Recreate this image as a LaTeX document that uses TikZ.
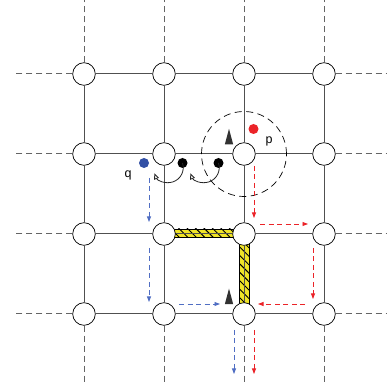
\documentclass[tikz,border=0pt]{standalone}
\usepackage{fontspec}
\newfontfamily\lblfont{Liberation Sans}
\usetikzlibrary{arrows.meta,calc,patterns.meta,shapes.geometric,backgrounds}
\definecolor{gridgray}{RGB}{80,80,80}
\definecolor{outgray}{RGB}{100,100,100}
\definecolor{qblue}{RGB}{50,80,165}
\definecolor{qpathblue}{RGB}{80,110,195}
\definecolor{pred}{RGB}{235,35,40}
\definecolor{wallyellow}{RGB}{240,228,40}
\definecolor{agentgray}{RGB}{50,50,50}

\begin{document}
\begin{tikzpicture}[x=1pt,y=1pt,>={Triangle[length=5.5pt,width=4pt]},
  v/.style={circle,draw,line width=0.7pt,fill=white,minimum size=22.6pt,inner sep=0pt},
  dot/.style={circle,fill=#1,minimum size=10pt,inner sep=0pt},
  inner/.style={draw=gridgray,line width=1pt},
  outer/.style={draw=outgray,line width=1pt,dash pattern=on 6pt off 4pt},
  wall/.style={draw=black,line width=0.5pt,fill=wallyellow,postaction={pattern={Lines[angle=-45,distance=6pt,line width=0.9pt]}}},
  agent/.style={isosceles triangle,shape border rotate=90,isosceles triangle apex angle=30,minimum height=15.5pt,inner sep=0pt,fill=agentgray},
  qpath/.style={->,qpathblue,line width=0.9pt,dash pattern=on 5pt off 3.5pt},
  ppath/.style={->,pred,line width=0.9pt,dash pattern=on 5pt off 3.5pt},
  hop/.style={-{Triangle[open,length=6pt,width=5pt]},line width=0.8pt,draw=black!85},
  lbl/.style={font=\lblfont\fontsize{12.5}{14}\selectfont,inner sep=0pt}]
  \useasboundingbox (0,0) rectangle (387,389);
  \coordinate (top) at (0,389); \coordinate (bot) at (0,4);
  \coordinate (lft) at (13,0); \coordinate (rgt) at (387,0);

  % grid vertices
  \foreach \i/\x in {0/84,1/164,2/244,3/324}
    \foreach \j/\y in {0/315,1/235,2/155,3/75}
      \node[v] (n\i\j) at (\x,\y) {};

  % grid edges
  \foreach \i in {0,1,2,3}
    \foreach \j/\k in {0/1,1/2,2/3}{
      \draw[inner] (n\i\j) -- (n\i\k); \draw[inner] (n\j\i) -- (n\k\i);}
  \foreach \i in {0,1,2,3}{
    \draw[outer] (n\i0) -- (n\i0 |- top); \draw[outer] (n\i3) -- (n\i3 |- bot);
    \draw[outer] (n0\i) -- (n0\i -| lft); \draw[outer] (n3\i) -- (n3\i -| rgt);}

  % blocked edges
  \begin{scope}[on background layer]
    \draw[wall] (174,152) rectangle (235,160);
    \draw[wall] (239,85) rectangle (249,146);
  \end{scope}

  % sensing range
  \draw[black,line width=0.7pt,dash pattern=on 7pt off 4.5pt] (n21) circle[radius=42.5];

  % agents and targets
  \node[agent,anchor=south] (a1) at (229,244.5) {};
  \node[agent,anchor=south] (a2) at (229,84.7) {};
  \node[dot=pred] (p) at (253.5,260) {}; \node[lbl] (plbl) at (269,248) {p};
  \node[dot=qblue] (q) at (144,226) {}; \node[lbl] (qlbl) at (128,214) {q};
  \node[dot=black] (d1) at (182.5,226) {}; \node[dot=black] (d2) at (218.5,226) {};
  \draw[hop] (d1.center) arc[start angle=18,end angle=-158,radius=15];
  \draw[hop] (d2.center) arc[start angle=18,end angle=-158,radius=15];

  % paths of q
  \coordinate (qa0) at (149,211); \coordinate (qa1) at (149,167);
  \coordinate (qb0) at (149,141); \coordinate (qb1) at (149,87);
  \coordinate (qc0) at (179,85);  \coordinate (qc1) at (220,85);
  \coordinate (qd0) at (234,59);  \coordinate (qd1) at (234,15);
  \draw[qpath] (qa0) -- (qa1); \draw[qpath] (qb0) -- (qb1);
  \draw[qpath] (qc0) -- (qc1); \draw[qpath] (qd0) -- (qd1);

  % paths of p
  \coordinate (pa0) at (254,223); \coordinate (pa1) at (254,171);
  \coordinate (pb0) at (260,165); \coordinate (pb1) at (308,165);
  \coordinate (pc0) at (313,141); \coordinate (pc1) at (313,90);
  \coordinate (pd0) at (305,85);  \coordinate (pd1) at (258,85);
  \coordinate (pe0) at (254,59);  \coordinate (pe1) at (254,15);
  \draw[ppath] (pa0) -- (pa1); \draw[ppath] (pb0) -- (pb1);
  \draw[ppath] (pc0) -- (pc1); \draw[ppath] (pd0) -- (pd1);
  \draw[ppath] (pe0) -- (pe1);
\end{tikzpicture}
\end{document}
